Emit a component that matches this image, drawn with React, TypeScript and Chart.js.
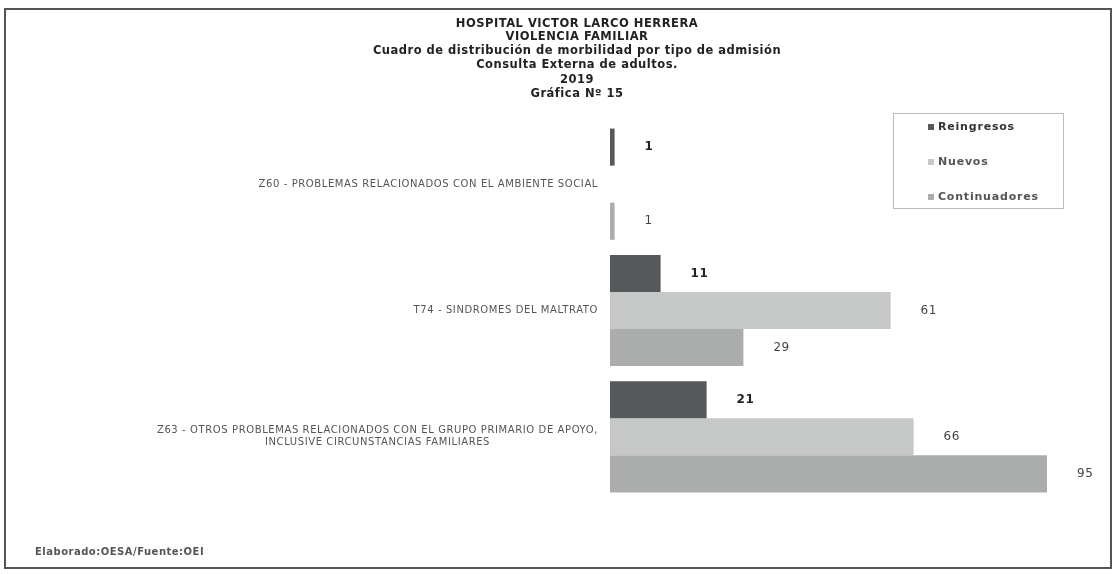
import React, { useEffect, useRef } from "react";
import { Chart, registerables } from "chart.js";

Chart.register(...registerables);

const titleLines = [
  "HOSPITAL VICTOR LARCO HERRERA",
  "VIOLENCIA FAMILIAR",
  "Cuadro de distribución de morbilidad por tipo de admisión",
  "Consulta Externa de adultos.",
  "2019",
  "Gráfica Nº 15",
];
const footerText = "Elaborado:OESA/Fuente:OEI";

const categories: string[][] = [
  ["Z60 - PROBLEMAS RELACIONADOS CON EL AMBIENTE SOCIAL"],
  ["T74 - SINDROMES DEL MALTRATO"],
  [
    "Z63 - OTROS PROBLEMAS RELACIONADOS CON EL GRUPO PRIMARIO DE APOYO,",
    "INCLUSIVE CIRCUNSTANCIAS FAMILIARES",
  ],
];

const seriesNames = ["Reingresos", "Nuevos", "Continuadores"];
const reingresos: (number | null)[] = [1, 11, 21];
const nuevos: (number | null)[] = [null, 61, 66];
const continuadores: (number | null)[] = [1, 29, 95];
const seriesColors = ["#55595b", "#c6c8c8", "#abadad"];

const FONT = "'DejaVu Sans', Verdana, sans-serif";

function setSpacing(ctx: any, v: string) {
  try {
    ctx.letterSpacing = v;
  } catch (e) {}
}

const decorPlugin = {
  id: "decor",
  beforeDraw(chart: any) {
    const ctx = chart.ctx;
    ctx.save();
    ctx.fillStyle = "#ffffff";
    ctx.fillRect(0, 0, chart.width, chart.height);
    ctx.restore();
  },
  afterDraw(chart: any) {
    const ctx = chart.ctx;
    ctx.save();
    // frame
    ctx.strokeStyle = "#555555";
    ctx.lineWidth = 2;
    ctx.strokeRect(5, 9, 1106, 559);

    // title
    ctx.fillStyle = "#222222";
    ctx.textAlign = "center";
    ctx.textBaseline = "middle";
    ctx.font = `bold 11.5px ${FONT}`;
    setSpacing(ctx, "0.5px");
    const ty = [24, 37, 51, 65, 80, 94];
    titleLines.forEach((t, i) => ctx.fillText(t, 577, ty[i]));

    // footer
    ctx.textAlign = "left";
    ctx.fillStyle = "#555555";
    ctx.font = `bold 10px ${FONT}`;
    setSpacing(ctx, "0.5px");
    ctx.fillText(footerText, 35, 552);

    // category labels
    const y = chart.scales.y;
    ctx.font = `10px ${FONT}`;
    setSpacing(ctx, "0.6px");
    ctx.fillStyle = "#555555";
    categories.forEach((lines, i) => {
      const cy = y.getPixelForValue(i);
      const widths = lines.map((l) => ctx.measureText(l).width);
      const maxW = Math.max(...widths);
      const right = 598;
      const lh = 12;
      ctx.textAlign = "center";
      lines.forEach((l, j) => {
        ctx.fillText(l, right - maxW / 2, cy + (j - (lines.length - 1) / 2) * lh);
      });
    });

    // legend
    ctx.strokeStyle = "#bbbbbb";
    ctx.lineWidth = 1;
    ctx.strokeRect(893.5, 113.5, 170, 95);
    ctx.font = `bold 11px ${FONT}`;
    setSpacing(ctx, "0.8px");
    ctx.textAlign = "left";
    seriesNames.forEach((n, i) => {
      const ly = 127 + i * 35;
      ctx.fillStyle = seriesColors[i];
      ctx.fillRect(928, ly - 3, 6, 6);
      ctx.fillStyle = i === 0 ? "#333333" : "#555555";
      ctx.fillText(n, 938, ly);
    });
    ctx.restore();
  },
  afterDatasetsDraw(chart: any) {
    const ctx = chart.ctx;
    ctx.save();
    ctx.textAlign = "left";
    ctx.textBaseline = "middle";
    setSpacing(ctx, "0.5px");
    chart.data.datasets.forEach((ds: any, di: number) => {
      const meta = chart.getDatasetMeta(di);
      ctx.font = di === 0 ? `bold 12px ${FONT}` : `12px ${FONT}`;
      ctx.fillStyle = di === 0 ? "#222222" : "#444444";
      meta.data.forEach((el: any, i: number) => {
        const v = ds.data[i];
        if (v === null || v === undefined) return;
        ctx.fillText(String(v), el.x + 30, el.y);
      });
    });
    ctx.restore();
  },
};

export default function App() {
  const ref = useRef<HTMLCanvasElement | null>(null);
  useEffect(() => {
    if (!ref.current) return;
    const chart = new Chart(ref.current, {
      type: "bar",
      data: {
        labels: categories as any,
        datasets: [
          { label: seriesNames[0], data: reingresos, backgroundColor: seriesColors[0] },
          { label: seriesNames[1], data: nuevos, backgroundColor: seriesColors[1] },
          { label: seriesNames[2], data: continuadores, backgroundColor: seriesColors[2] },
        ],
      },
      options: {
        indexAxis: "y",
        animation: false,
        responsive: false,
        maintainAspectRatio: false,
        devicePixelRatio: 1,
        layout: { padding: { left: 610, right: 45, top: 121, bottom: 74 } },
        datasets: { bar: { barPercentage: 1, categoryPercentage: 0.88 } },
        scales: {
          x: { display: false, min: 0, max: 100 },
          y: { display: false },
        },
        plugins: {
          legend: { display: false },
          title: { display: false },
          tooltip: { enabled: false },
        },
      },
      plugins: [decorPlugin],
    });
    return () => chart.destroy();
  }, []);
  return (
    <div style={{ position: "absolute", left: 0, top: 0, width: 1115, height: 574 }}>
      <canvas ref={ref} width={1115} height={574} style={{ display: "block" }} />
    </div>
  );
}
